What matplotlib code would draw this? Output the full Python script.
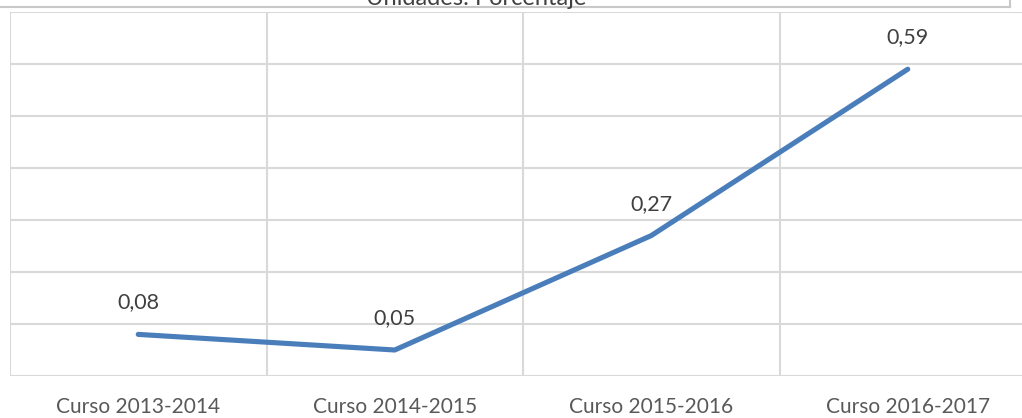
import matplotlib.pyplot as plt
from matplotlib.lines import Line2D

plt.rcParams['font.family'] = ['Lato', 'DejaVu Sans']

cursos = ['Curso 2013-2014', 'Curso 2014-2015', 'Curso 2015-2016', 'Curso 2016-2017']
valores = [0.08, 0.05, 0.27, 0.59]
etiquetas = ['0,08', '0,05', '0,27', '0,59']
titulo = 'Unidades: Porcentaje'

W, H = 1022, 418
fig = plt.figure(figsize=(W / 100, H / 100), dpi=100)
# el area de trazado se sale por la derecha, como en el original recortado
ax = fig.add_axes([10 / W, 42 / H, 1026 / W, 364 / H])

x = list(range(len(cursos)))
ax.plot(x, valores, color='#4a7ebb', lw=3.7, solid_capstyle='round', zorder=3)

for xi, v, t in zip(x, valores, etiquetas):
    ax.annotate(t, (xi, v), xytext=(0, 23), textcoords='offset points',
                ha='center', va='center', fontsize=15.5, color='#404040')

ax.set_xlim(-0.5, 3.5)
ax.set_ylim(0, 0.7)
ax.set_yticks([i / 10 for i in range(8)])
ax.set_yticklabels([])
ax.set_xticks(x)
ax.set_xticklabels(cursos, fontsize=15, color='#595959')
ax.set_xticks([-0.5, 0.5, 1.5, 2.5, 3.5], minor=True)
ax.tick_params(axis='both', which='both', length=0)
ax.tick_params(axis='x', pad=15)
ax.grid(axis='y', color='#d9d9d9', lw=1.5)
ax.grid(axis='x', which='minor', color='#d9d9d9', lw=1.5)
ax.set_axisbelow(True)
for s in ax.spines.values():
    s.set_visible(False)

# titulo y su recuadro, cortados por arriba
fig.text(476 / W, 1 - 5 / H, titulo, ha='center', va='baseline',
         fontsize=17, color='#404040')
fig.add_artist(Line2D([0, 1010 / W], [1 - 7 / H, 1 - 7 / H],
                      transform=fig.transFigure, color='#c8c8c8', lw=1.5))
fig.add_artist(Line2D([1010 / W, 1010 / W], [1 - 7 / H, 1.0],
                      transform=fig.transFigure, color='#c8c8c8', lw=1.5))

fig.savefig('out.png', dpi=100)
